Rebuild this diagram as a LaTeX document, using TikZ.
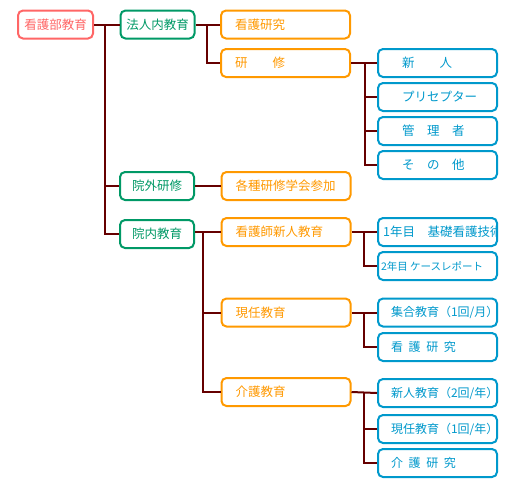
\documentclass[tikz,border=0pt]{standalone}
\usepackage{fontspec}
\setmainfont{Noto Sans CJK JP}
\definecolor{cpink}{HTML}{FF6666}
\definecolor{cgreen}{HTML}{009966}
\definecolor{corange}{HTML}{FF9900}
\definecolor{cblue}{HTML}{0099CC}
\definecolor{cline}{HTML}{660000}
\newcommand\padl[3]{\makebox[#1][l]{\hspace*{#2}#3}}
\newcommand\gp{\hspace{0.47em}}
\tikzset{
  box/.style={draw, line width=2pt, rounded corners=5pt, minimum height=28pt,
    inner ysep=0pt, inner xsep=0pt, fill=white, font=\fontsize{12.5}{14}\selectfont},
  pinkbox/.style={box, draw=cpink, text=cpink, minimum width=75pt},
  greenbox/.style={box, draw=cgreen, text=cgreen, minimum width=74pt},
  orangebox/.style={box, draw=corange, text=corange, minimum width=129pt},
  bluebox/.style={box, draw=cblue, text=cblue, minimum width=119pt},
  smallblue/.style={bluebox, font=\fontsize{12}{14}\selectfont},
  bluetext/.style={text=cblue, inner sep=0pt, font=\fontsize{12.5}{14}\selectfont},
  conn/.style={draw=cline, line width=2pt}
}
\begin{document}
\begin{tikzpicture}[x=1pt, y=-1pt]
\useasboundingbox (0,0) rectangle (518,491);
% level 0
\node[pinkbox] (kango) at (55.5,24.5) {看護部教育};
% level 1
\node[greenbox] (houjin) at (157.5,24.5) {法人内教育};
\node[greenbox] (ingai) at (157,186) {院外研修};
\node[greenbox] (innai) at (157,234) {院内教育};
% level 2
\node[orangebox] (kenkyu1) at (285.5,24.5) {\padl{129pt}{14pt}{看護研究}};
\node[orangebox] (kenshu) at (285.5,63) {\padl{129pt}{14pt}{研　　修}};
\node[orangebox] (kakushu) at (286,186) {\padl{129pt}{14pt}{各種研修学会参加}};
\node[orangebox] (kshinjin) at (286,232) {\padl{129pt}{14pt}{看護師新人教育}};
\node[orangebox] (genin) at (286,312.5) {\padl{129pt}{14pt}{現任教育}};
\node[orangebox] (kaigo) at (286,392) {\padl{129pt}{14pt}{介護教育}};
% level 3
\node[bluebox] (shinjin) at (437.5,63) {\padl{119pt}{24pt}{新　　人}};
\node[bluebox] (pre) at (437.5,97) {\padl{119pt}{24pt}{プリセプター}};
\node[bluebox] (kanri) at (437.5,131) {\padl{119pt}{24pt}{管　理　者}};
\node[bluebox] (sonota) at (437.5,165) {\padl{119pt}{24pt}{そ　の　他}};
\node[bluebox] (nen1) at (437.5,232) {};
\begin{scope}
  \clip ([xshift=2pt,yshift=-2pt]nen1.south west) rectangle ([xshift=-2pt,yshift=2pt]nen1.north east);
  \node[bluetext, anchor=west] (nen1t) at ([xshift=6pt]nen1.west) {1年目　基礎看護技術};
\end{scope}
\node[bluebox, font=\fontsize{10.5}{12}\selectfont] (nen2) at (437.5,266) {\padl{119pt}{3pt}{2年目 ケースレポート}};
\node[smallblue] (shugo) at (437.5,312.5) {\padl{119pt}{13pt}{集合教育（1回/月）}};
\node[smallblue] (kenkyu2) at (437.5,347) {\padl{119pt}{13pt}{看\gp 護\gp 研\gp 究}};
\node[smallblue] (shinjin2) at (437.5,393) {\padl{119pt}{13pt}{新人教育（2回/年）}};
\node[smallblue] (genin2) at (437.5,429) {\padl{119pt}{13pt}{現任教育（1回/年）}};
\node[smallblue] (kaigok) at (437.5,463) {\padl{119pt}{13pt}{介\gp 護\gp 研\gp 究}};
% trunk coordinates
\coordinate (v0) at (105,0);
\coordinate (v1) at (207,0);
\coordinate (v2) at (365,0);
\coordinate (v3) at (203,0);
\coordinate (v4) at (364,0);
% connectors
\draw[conn] (kango.east) -- (houjin.west);
\draw[conn] (kango.east -| v0) |- (ingai.west);
\draw[conn] (kango.east -| v0) |- (innai.west);
\draw[conn] (houjin.east) -- (kenkyu1.west);
\draw[conn] (houjin.east -| v1) |- (kenshu.west);
\draw[conn] (kenshu.east) -- (shinjin.west);
\draw[conn] (kenshu.east -| v2) |- (pre.west);
\draw[conn] (kenshu.east -| v2) |- (kanri.west);
\draw[conn] (kenshu.east -| v2) |- (sonota.west);
\draw[conn] (ingai.east) -- (kakushu.west);
\draw[conn] (kshinjin.west -| innai.east) -- (kshinjin.west);
\draw[conn] (kshinjin.west -| v3) |- (genin.west);
\draw[conn] (kshinjin.west -| v3) |- (kaigo.west);
\draw[conn] (kshinjin.east) -- (nen1.west);
\draw[conn] (kshinjin.east -| v4) |- (nen2.west);
\draw[conn] (genin.east) -- (shugo.west);
\draw[conn] (genin.east -| v4) |- (kenkyu2.west);
\draw[conn] (kaigo.east) -- (shinjin2.west);
\draw[conn] (kaigo.east -| v4) |- (genin2.west);
\draw[conn] (kaigo.east -| v4) |- (kaigok.west);
\end{tikzpicture}
\end{document}
